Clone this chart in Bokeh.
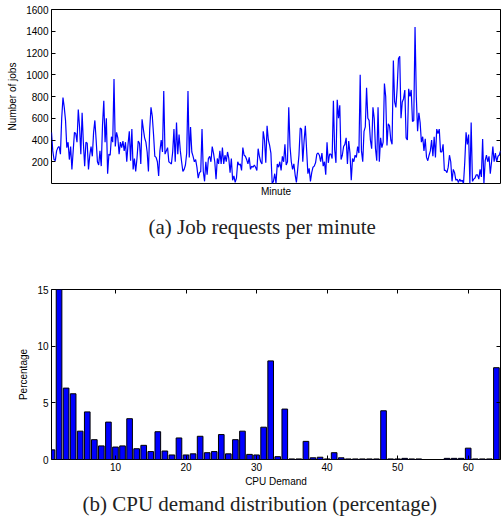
from bokeh.plotting import figure
from bokeh.layouts import column
from bokeh.models import Range1d, LinearAxis, FixedTicker, Title
from bokeh.embed import file_html
from bokeh.resources import INLINE

# ---------------- data ----------------
jobs = [
    470, 300, 220, 210, 300, 330, 340, 270, 600, 790,
    700, 580, 330, 380, 220, 340, 130, 300, 470, 460,
    380, 680, 520, 270, 650, 370, 160, 380, 370, 130,
    260, 340, 250, 470, 580, 400, 200, 170, 300, 160,
    540, 760, 380, 600, 90, 270, 260, 430, 380, 960,
    340, 470, 420, 270, 380, 330, 390, 300, 380, 200,
    360, 480, 210, 500, 130, 230, 110, 230, 390, 370,
    180, 590, 500, 420, 380, 290, 110, 500, 700, 620,
    450, 250, 240, 200, 70, 300, 400, 290, 850, 270,
    300, 330, 200, 190, 180, 290, 500, 200, 560, 270,
    450, 300, 200, 110, 130, 170, 280, 850, 240, 520,
    290, 250, 200, 220, 150, 50, 100, 110, 500, 110,
    20, 200, 80, 230, 250, 200, 340, 280, 200, 40,
    230, 180, 300, 180, 330, 180, 260, 200, 290, 230,
    100, 230, 30, 70, 10, 50, 200, 170, 180, 120,
    330, 260, 250, 220, 180, 240, 130, 160, 150,
    170, 150, 120, 320, 250, 200, 180, 480, 400, 190,
    530, 400, 350, 280, 0, 20, 90, 0, 180, 150,
    200, 120, 250, 200, 360, 170, 200, 700, 340, 200,
    130, 180, 80, 10, 130, 260, 510, 500, 200, 390,
    530, 310, 90, 140, 20, 100, 150, 160, 190, 270,
    280, 260, 200, 280, 160, 200, 80, 380, 190, 270,
    270, 230, 760, 310, 190, 770, 600, 720, 220, 260,
    340, 360, 420, 180, 390, 280, 30, 230, 200, 260,
    240, 340, 280, 1000, 300, 200, 480, 520, 880, 600,
    580, 400, 320, 700, 600, 320, 210, 700, 200, 420,
    330, 380, 920, 800, 350, 550, 530, 400, 360, 1130,
    750, 700, 880, 1150, 1170, 600, 750, 780, 860, 420,
    400, 870, 800, 860, 570, 580, 1440, 800, 480, 650,
    560, 380, 430, 300, 410, 240, 210, 260, 300, 400,
    250, 430, 240, 500, 460, 500, 290, 290, 360, 120,
    120, 100, 150, 260, 200, 20, 130, 100, 30, 40,
    10, 40, 20, 30, 0, 200, 470, 360, 450, 0,
    560, 20, 40, 50, 80, 80, 40, 130, 60, 410,
    0, 210, 260, 200, 250, 90, 200, 340, 200, 280,
    200, 250, 260, 300,
]
minutes = list(range(1, len(jobs) + 1))
jobs_yticks = [200, 400, 600, 800, 1000, 1200, 1400, 1600]

cpu_demand = list(range(1, 65))
cpu_pct = [
    0.85, 15.0, 6.3, 5.8, 2.5, 4.2, 1.75, 1.2, 3.3, 1.1,
    1.2, 3.6, 0.95, 1.25, 0.7, 2.45, 0.75, 0.4, 1.9, 0.4,
    0.5, 2.05, 0.6, 0.7, 2.2, 0.5, 1.75, 2.5, 0.45, 0.4,
    2.85, 8.7, 0.25, 4.45, 0.05, 0.05, 1.6, 0.15, 0.2, 0.05,
    0.6, 0.15, 0.05, 0.05, 0.05, 0.05, 0.05, 4.3, 0.05, 0.05,
    0.1, 0.05, 0.05, 0.0, 0.0, 0.0, 0.1, 0.1, 0.1, 1.0,
    0.05, 0.05, 0.05, 8.1,
]
cpu_xticks = [10, 20, 30, 40, 50, 60]
cpu_yticks = [0, 5, 10, 15]

caption_a = "(a) Job requests per minute"
caption_b = "(b) CPU demand distribution (percentage)"

SANS = "Liberation Sans"
SERIF = "Liberation Serif"


def style_axis(ax, ticks, show_labels=True):
    ax.ticker = FixedTicker(ticks=ticks)
    ax.major_tick_in = 4
    ax.major_tick_out = 0
    ax.major_tick_line_color = "black"
    ax.minor_tick_line_color = None
    ax.axis_line_color = None
    ax.major_label_text_font = SANS
    if show_labels:
        ax.major_label_text_font_size = "10px"
        ax.major_label_text_color = "black"
        ax.major_label_standoff = 3
    else:
        ax.major_label_text_font_size = "1px"
        ax.major_label_text_color = None
        ax.major_label_text_alpha = 0
        ax.major_label_standoff = 0
    ax.axis_label_text_font = SANS
    ax.axis_label_text_font_size = "10px"
    ax.axis_label_text_font_style = "normal"
    ax.axis_label_text_color = "black"


# ---------------- top chart ----------------
p1 = figure(width=501, height=262, output_backend="svg", toolbar_location=None,
            x_range=Range1d(1, len(jobs)), y_range=Range1d(0, 1600),
            min_border_left=51, min_border_right=1, min_border_top=9,
            min_border_bottom=79)
p1.line(minutes, jobs, line_color="#0000ff", line_width=1.2)
p1.grid.visible = False
p1.outline_line_color = "black"
p1.outline_line_width = 1
p1.background_fill_color = "white"
p1.border_fill_color = "white"

style_axis(p1.yaxis[0], jobs_yticks)
p1.yaxis[0].axis_label = "Number of jobs"
p1.yaxis[0].axis_label_standoff = 5
style_axis(p1.xaxis[0], [])
p1.xaxis[0].axis_label = "Minute"
p1.xaxis[0].axis_label_standoff = 2
r1 = LinearAxis()
style_axis(r1, jobs_yticks, show_labels=False)
p1.add_layout(r1, "right")
p1.add_layout(Title(text=caption_a, text_font=SERIF, text_font_size="21px",
                    text_font_style="normal", text_color="#222222",
                    align="left", offset=97, standoff=26), "below")

# ---------------- bottom chart ----------------
p2 = figure(width=501, height=259, output_backend="svg", toolbar_location=None,
            x_range=Range1d(0.93, 64.58), y_range=Range1d(0, 15),
            min_border_left=51, min_border_right=1, min_border_top=27,
            min_border_bottom=62)
p2.vbar(x=cpu_demand, top=cpu_pct, width=0.8, fill_color="#0000ff",
        line_color="black", line_width=1)
p2.grid.visible = False
p2.outline_line_color = "black"
p2.outline_line_width = 1
p2.background_fill_color = "white"
p2.border_fill_color = "white"

style_axis(p2.yaxis[0], cpu_yticks)
p2.yaxis[0].axis_label = "Percentage"
p2.yaxis[0].axis_label_standoff = 5
style_axis(p2.xaxis[0], cpu_xticks)
p2.xaxis[0].axis_label = "CPU Demand"
p2.xaxis[0].axis_label_standoff = 2
r2 = LinearAxis()
style_axis(r2, cpu_yticks, show_labels=False)
p2.add_layout(r2, "right")
t2 = LinearAxis()
style_axis(t2, cpu_xticks, show_labels=False)
p2.add_layout(t2, "above")
p2.add_layout(Title(text=caption_b, text_font=SERIF, text_font_size="21px",
                    text_font_style="normal", text_color="#222222",
                    align="left", offset=31, standoff=0), "below")

layout = column(p1, p2, spacing=0)
open("out.html", "w").write(file_html(layout, INLINE))
